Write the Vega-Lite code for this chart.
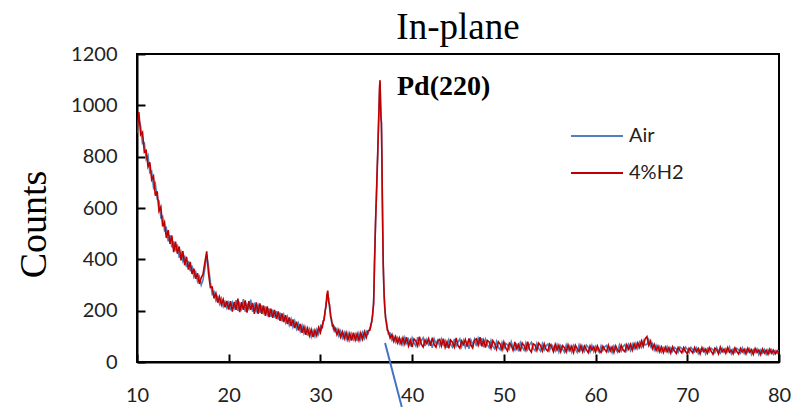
{
"$schema":"https://vega.github.io/schema/vega-lite/v6.json",
"width":642,"height":308,
"autosize":{"type":"none"},
"padding":{"left":137,"top":54,"right":19,"bottom":45},
"background":"white",
"title":{"text":"In-plane","font":"Liberation Serif","fontSize":37,"fontWeight":"normal","color":"#000","anchor":"middle","frame":"group","offset":-32,"baseline":"alphabetic"},
"config":{"view":{"stroke":"#000","strokeWidth":2},"axis":{"grid":false,"domainColor":"#000","domainWidth":2,"tickColor":"#000","tickWidth":2,"tickSize":-8,"labelFont":"Lato","labelFontSize":20,"labelColor":"#222"}},
"datasets":{
"xrd":[
{"t":10.0,"4%H2":890,"Air":910},{"t":10.2,"4%H2":974,"Air":946},{"t":10.4,"4%H2":885,"Air":919},{"t":10.6,"4%H2":895,"Air":851},{"t":10.8,"4%H2":818,"Air":854},{"t":11.0,"4%H2":824,"Air":790},{"t":11.2,"4%H2":761,"Air":805},{"t":11.4,"4%H2":778,"Air":738},{"t":11.6,"4%H2":710,"Air":744},{"t":11.8,"4%H2":724,"Air":680},
{"t":12.0,"4%H2":648,"Air":696},{"t":12.2,"4%H2":665,"Air":635},{"t":12.4,"4%H2":588,"Air":628},{"t":12.6,"4%H2":604,"Air":562},{"t":12.8,"4%H2":528,"Air":568},{"t":13.0,"4%H2":545,"Air":513},{"t":13.2,"4%H2":483,"Air":523},{"t":13.4,"4%H2":514,"Air":470},{"t":13.6,"4%H2":460,"Air":494},{"t":13.8,"4%H2":493,"Air":447},
{"t":14.0,"4%H2":428,"Air":470},{"t":14.2,"4%H2":469,"Air":431},{"t":14.4,"4%H2":422,"Air":458},{"t":14.6,"4%H2":450,"Air":406},{"t":14.8,"4%H2":396,"Air":428},{"t":15.0,"4%H2":432,"Air":392},{"t":15.2,"4%H2":377,"Air":409},{"t":15.4,"4%H2":410,"Air":370},{"t":15.6,"4%H2":360,"Air":394},{"t":15.8,"4%H2":390,"Air":354},
{"t":16.0,"4%H2":343,"Air":375},{"t":16.2,"4%H2":364,"Air":332},{"t":16.4,"4%H2":324,"Air":350},{"t":16.6,"4%H2":346,"Air":314},{"t":16.8,"4%H2":304,"Air":332},{"t":17.0,"4%H2":328,"Air":300},{"t":17.2,"4%H2":342,"Air":320},{"t":17.4,"4%H2":388,"Air":364},{"t":17.6,"4%H2":431,"Air":415},{"t":17.8,"4%H2":344,"Air":370},
{"t":18.0,"4%H2":290,"Air":312},{"t":18.2,"4%H2":292,"Air":264},{"t":18.4,"4%H2":248,"Air":274},{"t":18.6,"4%H2":268,"Air":240},{"t":18.8,"4%H2":231,"Air":255},{"t":19.0,"4%H2":254,"Air":226},{"t":19.2,"4%H2":223,"Air":247},{"t":19.4,"4%H2":244,"Air":216},{"t":19.6,"4%H2":213,"Air":235},{"t":19.8,"4%H2":238,"Air":210},
{"t":20.0,"4%H2":204,"Air":232},{"t":20.2,"4%H2":237,"Air":201},{"t":20.4,"4%H2":196,"Air":232},{"t":20.6,"4%H2":234,"Air":210},{"t":20.8,"4%H2":203,"Air":241},{"t":21.0,"4%H2":247,"Air":199},{"t":21.2,"4%H2":194,"Air":228},{"t":21.4,"4%H2":233,"Air":207},{"t":21.6,"4%H2":203,"Air":245},{"t":21.8,"4%H2":240,"Air":196},
{"t":22.0,"4%H2":192,"Air":224},{"t":22.2,"4%H2":237,"Air":207},{"t":22.4,"4%H2":203,"Air":243},{"t":22.6,"4%H2":230,"Air":196},{"t":22.8,"4%H2":188,"Air":224},{"t":23.0,"4%H2":232,"Air":198},{"t":23.2,"4%H2":188,"Air":222},{"t":23.4,"4%H2":228,"Air":192},{"t":23.6,"4%H2":188,"Air":220},{"t":23.8,"4%H2":220,"Air":186},
{"t":24.0,"4%H2":180,"Air":216},{"t":24.2,"4%H2":217,"Air":185},{"t":24.4,"4%H2":175,"Air":209},{"t":24.6,"4%H2":208,"Air":176},{"t":24.8,"4%H2":172,"Air":204},{"t":25.0,"4%H2":203,"Air":173},{"t":25.2,"4%H2":168,"Air":198},{"t":25.4,"4%H2":197,"Air":165},{"t":25.6,"4%H2":160,"Air":192},{"t":25.8,"4%H2":189,"Air":159},
{"t":26.0,"4%H2":156,"Air":184},{"t":26.2,"4%H2":182,"Air":154},{"t":26.4,"4%H2":148,"Air":176},{"t":26.6,"4%H2":174,"Air":144},{"t":26.8,"4%H2":140,"Air":168},{"t":27.0,"4%H2":166,"Air":136},{"t":27.2,"4%H2":132,"Air":160},{"t":27.4,"4%H2":157,"Air":129},{"t":27.6,"4%H2":123,"Air":151},{"t":27.8,"4%H2":148,"Air":120},
{"t":28.0,"4%H2":114,"Air":142},{"t":28.2,"4%H2":138,"Air":112},{"t":28.4,"4%H2":106,"Air":134},{"t":28.6,"4%H2":131,"Air":103},{"t":28.8,"4%H2":102,"Air":128},{"t":29.0,"4%H2":126,"Air":98},{"t":29.2,"4%H2":97,"Air":123},{"t":29.4,"4%H2":124,"Air":100},{"t":29.6,"4%H2":103,"Air":127},{"t":29.8,"4%H2":134,"Air":108},
{"t":30.0,"4%H2":115,"Air":139},{"t":30.1,"4%H2":138,"Air":129},{"t":30.2,"4%H2":135,"Air":146},{"t":30.3,"4%H2":160,"Air":149},{"t":30.4,"4%H2":163,"Air":174},{"t":30.5,"4%H2":198,"Air":186},{"t":30.6,"4%H2":214,"Air":228},{"t":30.7,"4%H2":262,"Air":240},{"t":30.8,"4%H2":278,"Air":250},{"t":30.9,"4%H2":233,"Air":248},
{"t":31.0,"4%H2":222,"Air":208},{"t":31.1,"4%H2":178,"Air":192},{"t":31.2,"4%H2":168,"Air":157},{"t":31.3,"4%H2":141,"Air":152},{"t":31.4,"4%H2":143,"Air":131},{"t":31.5,"4%H2":124,"Air":136},{"t":31.6,"4%H2":131,"Air":119},{"t":31.8,"4%H2":106,"Air":130},
{"t":32.0,"4%H2":125,"Air":101},{"t":32.2,"4%H2":97,"Air":121},{"t":32.4,"4%H2":118,"Air":94},{"t":32.6,"4%H2":91,"Air":115},{"t":32.8,"4%H2":115,"Air":89},{"t":33.0,"4%H2":86,"Air":112},{"t":33.2,"4%H2":111,"Air":85},{"t":33.4,"4%H2":84,"Air":110},{"t":33.6,"4%H2":114,"Air":88},{"t":33.8,"4%H2":86,"Air":108},
{"t":34.0,"4%H2":110,"Air":82},{"t":34.2,"4%H2":84,"Air":112},{"t":34.4,"4%H2":113,"Air":87},{"t":34.6,"4%H2":89,"Air":115},{"t":34.8,"4%H2":118,"Air":92},{"t":35.0,"4%H2":96,"Air":120},{"t":35.2,"4%H2":122,"Air":110},{"t":35.4,"4%H2":124,"Air":134},{"t":35.5,"4%H2":146,"Air":137},{"t":35.6,"4%H2":156,"Air":166},
{"t":35.7,"4%H2":192,"Air":180},{"t":35.8,"4%H2":226,"Air":238},{"t":35.85,"4%H2":305,"Air":290},{"t":35.9,"4%H2":395,"Air":380},{"t":35.95,"4%H2":455,"Air":470},{"t":36.0,"4%H2":535,"Air":520},{"t":36.05,"4%H2":588,"Air":598},{"t":36.1,"4%H2":645,"Air":630},{"t":36.15,"4%H2":698,"Air":712},{"t":36.2,"4%H2":765,"Air":750},
{"t":36.25,"4%H2":812,"Air":825},{"t":36.3,"4%H2":885,"Air":870},{"t":36.35,"4%H2":938,"Air":955},{"t":36.4,"4%H2":1010,"Air":990},{"t":36.45,"4%H2":1075,"Air":1060},{"t":36.5,"4%H2":1098,"Air":1085},{"t":36.55,"4%H2":1015,"Air":1020},{"t":36.6,"4%H2":950,"Air":958},{"t":36.65,"4%H2":935,"Air":925},{"t":36.7,"4%H2":805,"Air":795},
{"t":36.75,"4%H2":635,"Air":650},{"t":36.8,"4%H2":505,"Air":490},{"t":36.85,"4%H2":375,"Air":390},{"t":36.9,"4%H2":315,"Air":302},{"t":36.95,"4%H2":255,"Air":268},{"t":37.0,"4%H2":226,"Air":214},{"t":37.1,"4%H2":170,"Air":181},{"t":37.2,"4%H2":156,"Air":144},{"t":37.3,"4%H2":123,"Air":134},{"t":37.4,"4%H2":120,"Air":110},
{"t":37.6,"4%H2":93,"Air":113},{"t":37.8,"4%H2":107,"Air":85},{"t":38.0,"4%H2":80,"Air":100},{"t":38.2,"4%H2":99,"Air":77},{"t":38.4,"4%H2":74,"Air":94},{"t":38.6,"4%H2":94,"Air":72},{"t":38.8,"4%H2":70,"Air":90},
{"t":39.0,"4%H2":94,"Air":68},{"t":39.2,"4%H2":70,"Air":96},{"t":39.4,"4%H2":97,"Air":73},{"t":39.6,"4%H2":63,"Air":89},{"t":39.8,"4%H2":85,"Air":61},{"t":40.0,"4%H2":58,"Air":94},{"t":40.2,"4%H2":90,"Air":74},{"t":40.4,"4%H2":82,"Air":62},{"t":40.6,"4%H2":63,"Air":97},{"t":40.8,"4%H2":99,"Air":67},
{"t":41.0,"4%H2":69,"Air":83},{"t":41.2,"4%H2":58,"Air":94},{"t":41.4,"4%H2":86,"Air":62},{"t":41.6,"4%H2":72,"Air":88},{"t":41.8,"4%H2":91,"Air":67},{"t":42.0,"4%H2":63,"Air":79},{"t":42.2,"4%H2":95,"Air":55},{"t":42.4,"4%H2":68,"Air":90},{"t":42.6,"4%H2":58,"Air":72},{"t":42.8,"4%H2":82,"Air":86},
{"t":43.0,"4%H2":88,"Air":62},{"t":43.2,"4%H2":63,"Air":89},{"t":43.4,"4%H2":91,"Air":67},{"t":43.6,"4%H2":57,"Air":83},{"t":43.8,"4%H2":79,"Air":55},{"t":44.0,"4%H2":53,"Air":87},{"t":44.2,"4%H2":85,"Air":69},{"t":44.4,"4%H2":76,"Air":58},{"t":44.6,"4%H2":58,"Air":90},{"t":44.8,"4%H2":94,"Air":62},
{"t":45.0,"4%H2":64,"Air":78},{"t":45.2,"4%H2":54,"Air":90},{"t":45.4,"4%H2":82,"Air":60},{"t":45.6,"4%H2":68,"Air":84},{"t":45.8,"4%H2":88,"Air":56},{"t":46.0,"4%H2":60,"Air":76},{"t":46.2,"4%H2":92,"Air":52},{"t":46.4,"4%H2":66,"Air":86},{"t":46.6,"4%H2":55,"Air":67},{"t":46.8,"4%H2":85,"Air":89},
{"t":47.0,"4%H2":90,"Air":62},{"t":47.2,"4%H2":66,"Air":92},{"t":47.4,"4%H2":97,"Air":69},{"t":47.6,"4%H2":61,"Air":93},{"t":47.8,"4%H2":85,"Air":57},{"t":48.0,"4%H2":56,"Air":88},{"t":48.2,"4%H2":84,"Air":68},{"t":48.4,"4%H2":78,"Air":56},{"t":48.6,"4%H2":54,"Air":84},{"t":48.8,"4%H2":83,"Air":61},
{"t":49.0,"4%H2":71,"Air":51},{"t":49.2,"4%H2":50,"Air":80},{"t":49.4,"4%H2":79,"Air":57},{"t":49.6,"4%H2":70,"Air":48},{"t":49.8,"4%H2":48,"Air":76},{"t":50.0,"4%H2":78,"Air":52},{"t":50.2,"4%H2":55,"Air":73},{"t":50.4,"4%H2":43,"Air":67},{"t":50.6,"4%H2":73,"Air":51},{"t":50.8,"4%H2":65,"Air":79},
{"t":51.0,"4%H2":46,"Air":56},{"t":51.2,"4%H2":78,"Air":46},{"t":51.4,"4%H2":52,"Air":72},{"t":51.6,"4%H2":68,"Air":42},{"t":51.8,"4%H2":42,"Air":76},{"t":52.0,"4%H2":74,"Air":58},{"t":52.2,"4%H2":64,"Air":46},{"t":52.4,"4%H2":46,"Air":74},{"t":52.6,"4%H2":79,"Air":49},{"t":52.8,"4%H2":49,"Air":67},
{"t":53.0,"4%H2":39,"Air":77},{"t":53.2,"4%H2":71,"Air":53},{"t":53.4,"4%H2":66,"Air":44},{"t":53.6,"4%H2":45,"Air":73},{"t":53.8,"4%H2":74,"Air":52},{"t":54.0,"4%H2":64,"Air":42},{"t":54.2,"4%H2":43,"Air":71},{"t":54.4,"4%H2":71,"Air":47},{"t":54.6,"4%H2":49,"Air":63},{"t":54.8,"4%H2":42,"Air":70},
{"t":55.0,"4%H2":70,"Air":46},{"t":55.2,"4%H2":60,"Air":68},{"t":55.4,"4%H2":41,"Air":59},{"t":55.6,"4%H2":69,"Air":43},{"t":55.8,"4%H2":47,"Air":67},{"t":56.0,"4%H2":65,"Air":39},{"t":56.2,"4%H2":40,"Air":64},{"t":56.4,"4%H2":64,"Air":50},{"t":56.6,"4%H2":56,"Air":38},{"t":56.8,"4%H2":39,"Air":67},
{"t":57.0,"4%H2":67,"Air":45},{"t":57.2,"4%H2":45,"Air":63},{"t":57.4,"4%H2":61,"Air":39},{"t":57.6,"4%H2":37,"Air":65},{"t":57.8,"4%H2":65,"Air":49},{"t":58.0,"4%H2":51,"Air":37},{"t":58.2,"4%H2":41,"Air":67},{"t":58.4,"4%H2":64,"Air":46},{"t":58.6,"4%H2":40,"Air":62},{"t":58.8,"4%H2":62,"Air":42},
{"t":59.0,"4%H2":48,"Air":66},{"t":59.2,"4%H2":36,"Air":58},{"t":59.4,"4%H2":63,"Air":39},{"t":59.6,"4%H2":47,"Air":65},{"t":59.8,"4%H2":59,"Air":41},{"t":60.0,"4%H2":39,"Air":61},{"t":60.2,"4%H2":63,"Air":47},{"t":60.4,"4%H2":45,"Air":37},{"t":60.6,"4%H2":37,"Air":63},{"t":60.8,"4%H2":61,"Air":45},
{"t":61.0,"4%H2":49,"Air":59},{"t":61.2,"4%H2":39,"Air":65},{"t":61.4,"4%H2":65,"Air":41},{"t":61.6,"4%H2":43,"Air":57},{"t":61.8,"4%H2":59,"Air":37},{"t":62.0,"4%H2":37,"Air":63},{"t":62.2,"4%H2":63,"Air":49},{"t":62.4,"4%H2":46,"Air":38},{"t":62.6,"4%H2":40,"Air":66},{"t":62.8,"4%H2":65,"Air":43},
{"t":63.0,"4%H2":47,"Air":61},{"t":63.2,"4%H2":40,"Air":68},{"t":63.4,"4%H2":67,"Air":45},{"t":63.6,"4%H2":50,"Air":68},{"t":63.8,"4%H2":69,"Air":45},{"t":64.0,"4%H2":46,"Air":70},{"t":64.2,"4%H2":71,"Air":51},{"t":64.4,"4%H2":53,"Air":73},{"t":64.6,"4%H2":75,"Air":53},{"t":64.8,"4%H2":57,"Air":77},
{"t":65.0,"4%H2":82,"Air":58},{"t":65.2,"4%H2":61,"Air":83},{"t":65.4,"4%H2":90,"Air":66},{"t":65.6,"4%H2":99,"Air":69},{"t":65.8,"4%H2":65,"Air":87},{"t":66.0,"4%H2":82,"Air":60},{"t":66.2,"4%H2":52,"Air":72},{"t":66.4,"4%H2":69,"Air":47},{"t":66.6,"4%H2":45,"Air":65},{"t":66.8,"4%H2":62,"Air":42},
{"t":67.0,"4%H2":40,"Air":60},{"t":67.2,"4%H2":59,"Air":39},{"t":67.4,"4%H2":37,"Air":55},{"t":67.6,"4%H2":58,"Air":42},{"t":67.8,"4%H2":40,"Air":60},{"t":68.0,"4%H2":56,"Air":38},{"t":68.2,"4%H2":35,"Air":55},{"t":68.4,"4%H2":59,"Air":41},{"t":68.6,"4%H2":43,"Air":57},{"t":68.8,"4%H2":33,"Air":51},
{"t":69.0,"4%H2":57,"Air":37},{"t":69.2,"4%H2":45,"Air":59},{"t":69.4,"4%H2":36,"Air":52},{"t":69.6,"4%H2":56,"Air":40},{"t":69.8,"4%H2":42,"Air":58},{"t":70.0,"4%H2":32,"Air":50},{"t":70.2,"4%H2":54,"Air":36},{"t":70.4,"4%H2":45,"Air":57},{"t":70.6,"4%H2":35,"Air":49},{"t":70.8,"4%H2":57,"Air":39},
{"t":71.0,"4%H2":41,"Air":55},{"t":71.2,"4%H2":53,"Air":33},{"t":71.4,"4%H2":32,"Air":50},{"t":71.6,"4%H2":56,"Air":42},{"t":71.8,"4%H2":40,"Air":54},{"t":72.0,"4%H2":50,"Air":32},{"t":72.2,"4%H2":34,"Air":52},{"t":72.4,"4%H2":56,"Air":40},{"t":72.6,"4%H2":42,"Air":54},{"t":72.8,"4%H2":30,"Air":48},
{"t":73.0,"4%H2":54,"Air":36},{"t":73.2,"4%H2":48,"Air":56},{"t":73.4,"4%H2":32,"Air":42},{"t":73.6,"4%H2":58,"Air":34},{"t":73.8,"4%H2":40,"Air":54},{"t":74.0,"4%H2":50,"Air":38},{"t":74.2,"4%H2":34,"Air":52},{"t":74.4,"4%H2":56,"Air":40},{"t":74.6,"4%H2":38,"Air":58},{"t":74.8,"4%H2":46,"Air":32},
{"t":75.0,"4%H2":32,"Air":50},{"t":75.2,"4%H2":55,"Air":37},{"t":75.4,"4%H2":41,"Air":53},{"t":75.6,"4%H2":31,"Air":47},{"t":75.8,"4%H2":53,"Air":35},{"t":76.0,"4%H2":39,"Air":55},{"t":76.2,"4%H2":50,"Air":34},{"t":76.4,"4%H2":32,"Air":50},{"t":76.6,"4%H2":54,"Air":38},{"t":76.8,"4%H2":38,"Air":52},
{"t":77.0,"4%H2":48,"Air":30},{"t":77.2,"4%H2":30,"Air":48},{"t":77.4,"4%H2":53,"Air":37},{"t":77.6,"4%H2":37,"Air":51},{"t":77.8,"4%H2":47,"Air":29},{"t":78.0,"4%H2":29,"Air":47},{"t":78.2,"4%H2":51,"Air":35},{"t":78.4,"4%H2":35,"Air":49},{"t":78.6,"4%H2":46,"Air":30},{"t":78.8,"4%H2":30,"Air":48},
{"t":79.0,"4%H2":50,"Air":34},{"t":79.2,"4%H2":34,"Air":48},{"t":79.4,"4%H2":46,"Air":30},{"t":79.6,"4%H2":32,"Air":44},{"t":79.8,"4%H2":44,"Air":34},{"t":80.0,"4%H2":36,"Air":46}
],
"seg":[{"x":37.05,"y":74,"x2":38.87,"y2":-175}],
"lab":[{"t":38.35,"c":1040,"label":"Pd(220)"}]
},
"layer":[
{
"data":{"name":"xrd"},
"transform":[{"fold":["Air","4%H2"],"as":["series","counts"]}],
"mark":{"type":"line","strokeWidth":1.6,"clip":true},
"encoding":{
"x":{"field":"t","type":"quantitative","scale":{"domain":[10,80],"nice":false,"zero":false},"axis":{"values":[10,20,30,40,50,60,70,80],"title":null,"labelPadding":31,"labelFlush":false}},
"y":{"field":"counts","type":"quantitative","scale":{"domain":[0,1200],"nice":false},"axis":{"values":[0,200,400,600,800,1000,1200],"format":"d","title":"Counts","titleFont":"Liberation Serif","titleFontSize":38,"titleFontWeight":"normal","titleColor":"#000","titleAngle":-90,"titleX":-92,"titleY":170,"titleAlign":"center","titleBaseline":"alphabetic","labelPadding":28}},
"color":{"field":"series","type":"nominal","scale":{"domain":["Air","4%H2"],"range":["#4F81BD","#C00000"]},"legend":{"title":null,"orient":"none","legendX":433,"legendY":55,"symbolType":"stroke","symbolSize":2704,"symbolStrokeWidth":2,"labelFont":"Lato","labelFontSize":20,"labelColor":"#222","labelOffset":5,"rowPadding":-14,"padding":0}}
}
},
{
"data":{"name":"seg"},
"mark":{"type":"rule","color":"#4472C4","strokeWidth":2},
"encoding":{"x":{"field":"x","type":"quantitative"},"y":{"field":"y","type":"quantitative"},"x2":{"field":"x2"},"y2":{"field":"y2"}}
},
{
"data":{"name":"lab"},
"mark":{"type":"text","font":"Liberation Serif","fontSize":28,"fontWeight":"bold","align":"left","baseline":"alphabetic","color":"#000"},
"encoding":{"x":{"field":"t","type":"quantitative"},"y":{"field":"c","type":"quantitative"},"text":{"field":"label"}}
}
]
}
